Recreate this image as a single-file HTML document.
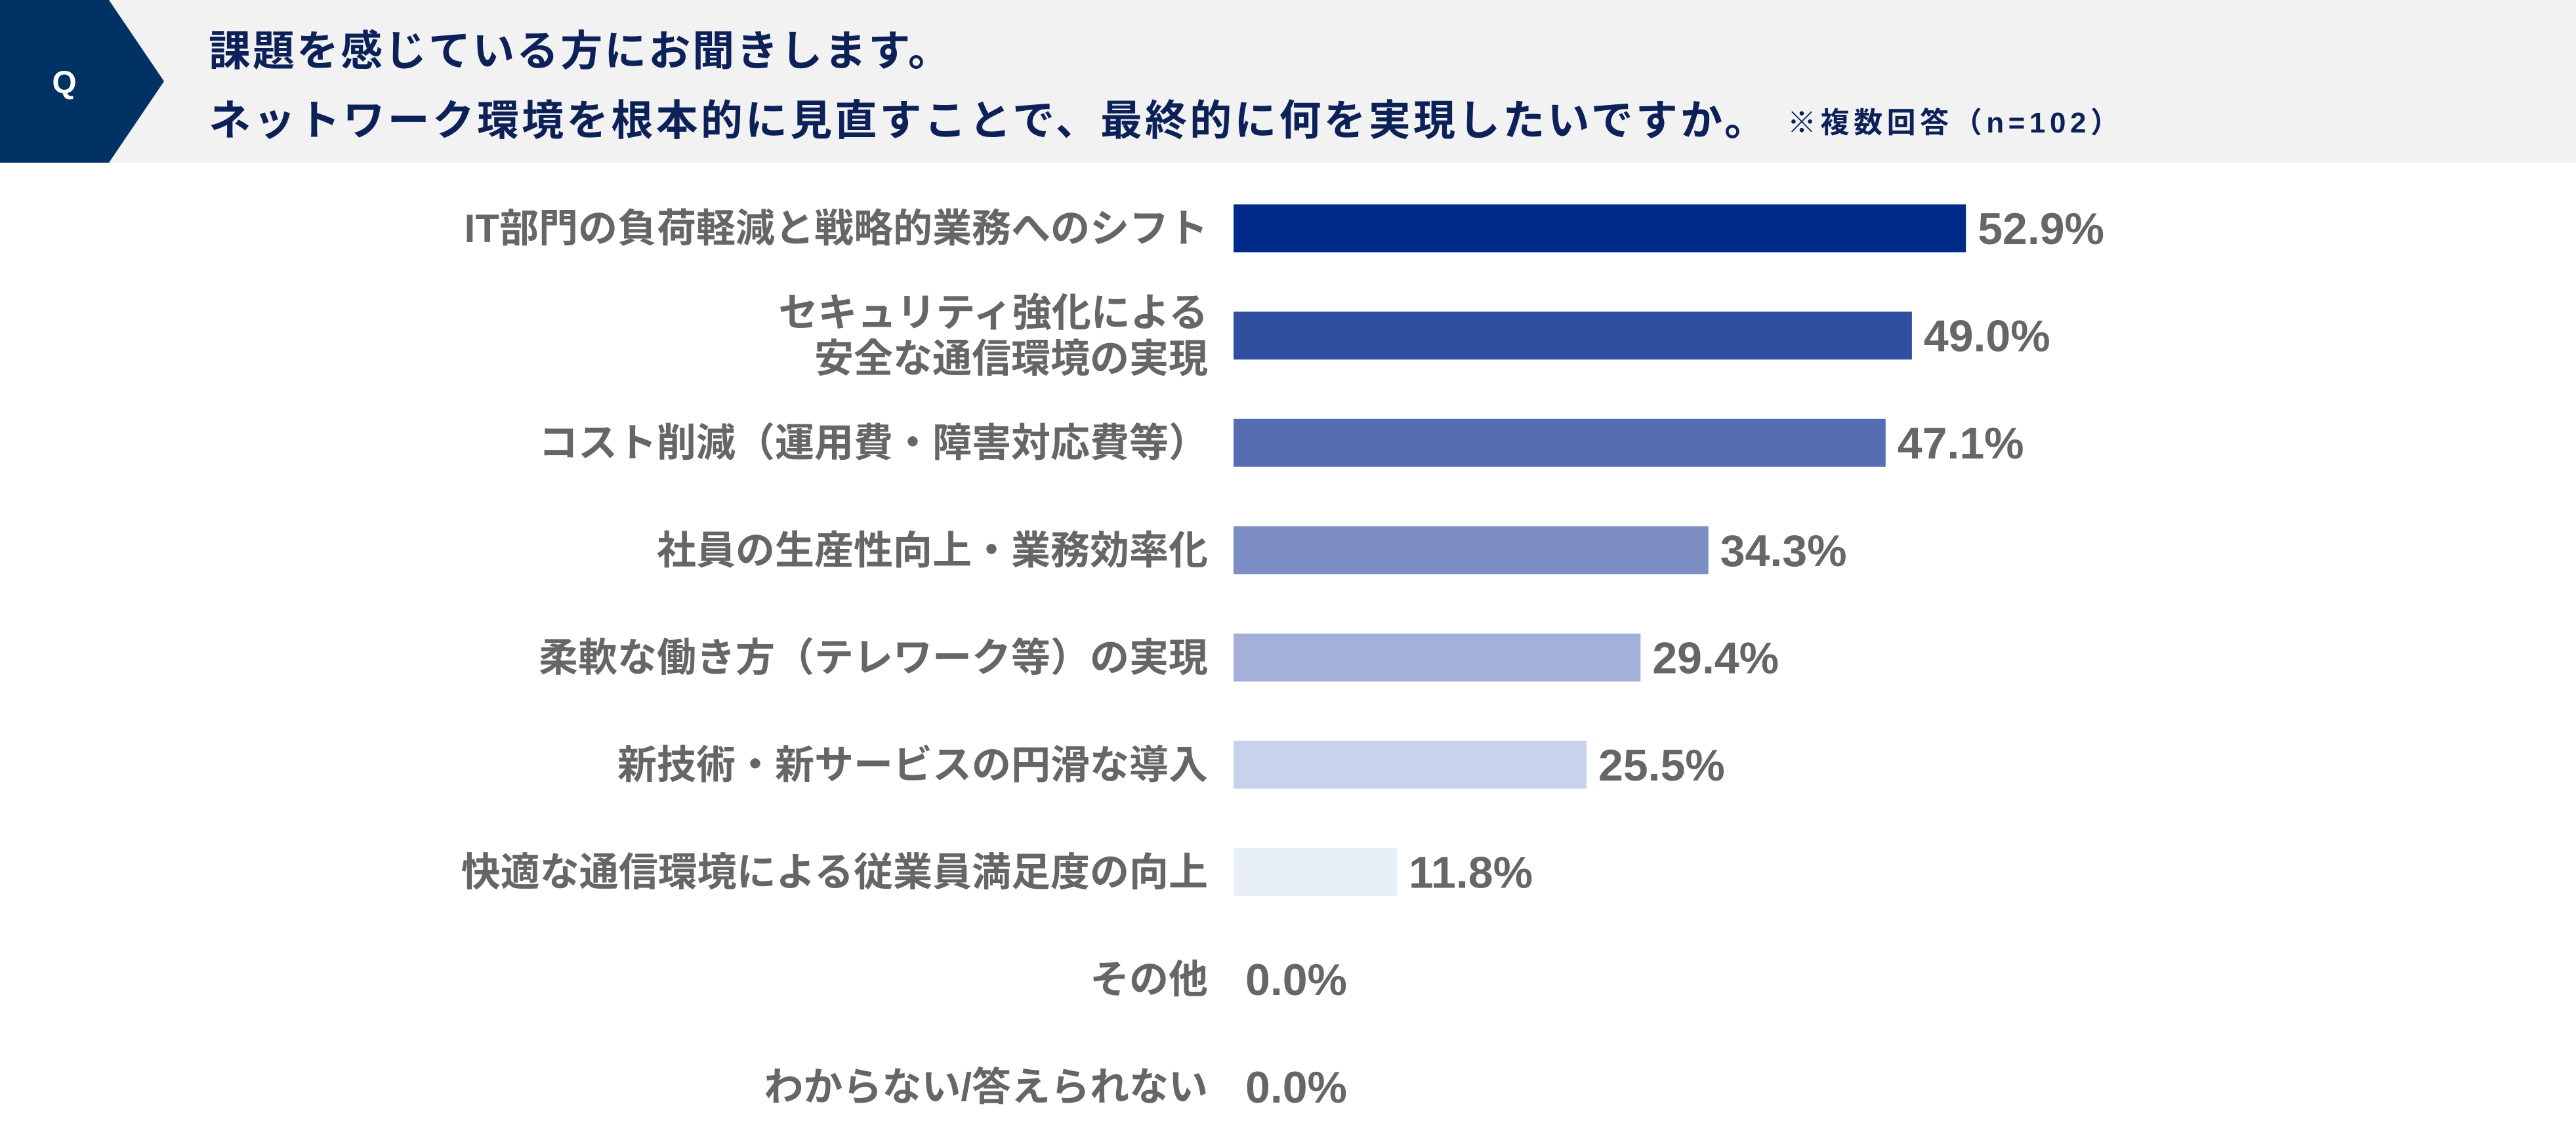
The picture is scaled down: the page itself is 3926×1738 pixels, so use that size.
<!DOCTYPE html>
<html><head><meta charset="utf-8"><style>
html,body{margin:0;padding:0;background:#fff;}
svg{display:block;}
text{font-family:"Liberation Sans","Noto Sans CJK JP",sans-serif;}
</style></head><body>
<svg id="chart" width="3926" height="1738" viewBox="0 0 3926 1738" xmlns="http://www.w3.org/2000/svg">
<rect x="0" y="0" width="3926" height="248" fill="#f2f2f2"/>
<polygon points="0,0 166,0 250,124 166,248 0,248" fill="#003263"/>
<text x="98" y="142" font-size="48" fill="#fff" text-anchor="middle" font-weight="bold">Q</text>
<text x="318" y="100" font-size="64" font-weight="bold" fill="#0d2159" textLength="1130" lengthAdjust="spacing">課題を感じている方にお聞きします。</text>
<text x="318" y="206" font-size="64" font-weight="bold" fill="#0d2159" textLength="2374" lengthAdjust="spacing">ネットワーク環境を根本的に見直すことで、最終的に何を実現したいですか。</text>
<text x="2724" y="202" font-size="44" font-weight="bold" fill="#0d2159" textLength="506" lengthAdjust="spacing">※複数回答（n=102）</text>
<g id="bars"></g>
</svg>
<script>
const categories = [
  ["IT部門の負荷軽減と戦略的業務へのシフト"],
  ["セキュリティ強化による","安全な通信環境の実現"],
  ["コスト削減（運用費・障害対応費等）"],
  ["社員の生産性向上・業務効率化"],
  ["柔軟な働き方（テレワーク等）の実現"],
  ["新技術・新サービスの円滑な導入"],
  ["快適な通信環境による従業員満足度の向上"],
  ["その他"],
  ["わからない/答えられない"]
];
const values = [52.9, 49.0, 47.1, 34.3, 29.4, 25.5, 11.8, 0.0, 0.0];
const colors = ["#002a8a","#314fa0","#566db2","#7d8ec4","#a3b0da","#c8d2ea","#e9eff9","#e9eff9","#e9eff9"];

const NS = "http://www.w3.org/2000/svg";
const g = document.getElementById("bars");
const x0 = 1880, pxPer = 21.1, y0 = 348, pitch = 163.6, bh = 73;
const xScale = v => x0 + v * pxPer;
const yScale = i => y0 + i * pitch;
categories.forEach((lines, i) => {
  const cy = yScale(i);
  const w = xScale(values[i]) - x0;
  if (w > 0) {
    const r = document.createElementNS(NS, "rect");
    
    
    r.setAttribute("x", x0); r.setAttribute("y", cy - bh/2);
    r.setAttribute("width", w); r.setAttribute("height", bh);
    r.setAttribute("fill", colors[i]);
    g.appendChild(r);
  }
  lines.forEach((ln, j) => {
    const t = document.createElementNS(NS, "text");
    
    
    const ly = cy + (j - (lines.length - 1) / 2) * 70 + 21;
    t.setAttribute("x", 1841); t.setAttribute("y", ly);
    t.setAttribute("text-anchor", "end");
    t.setAttribute("font-size", "60"); t.setAttribute("font-weight", "bold");
    t.setAttribute("fill", "#666");
    t.textContent = ln;
    g.appendChild(t);
  });
  const v = document.createElementNS(NS, "text");
  
  
  v.setAttribute("x", xScale(values[i]) + 18); v.setAttribute("y", cy + 24);
  v.setAttribute("font-size", "68"); v.setAttribute("font-weight", "bold");
  v.setAttribute("fill", "#666");
  v.textContent = values[i].toFixed(1) + "%";
  g.appendChild(v);
});
</script>
</body></html>
